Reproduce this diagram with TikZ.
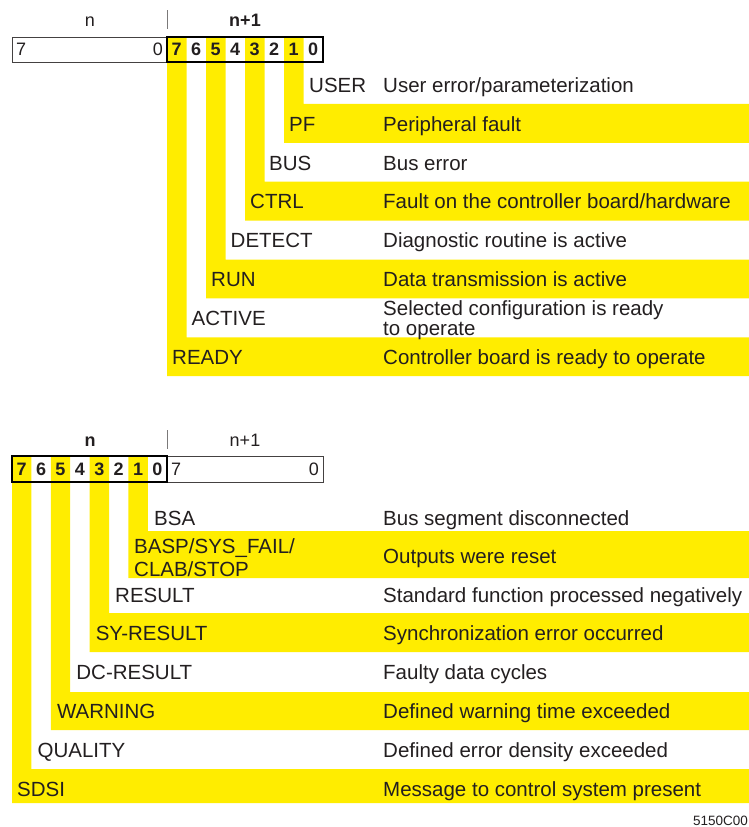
\documentclass[tikz,border=0pt]{standalone}
\usepackage{fontspec}
\setmainfont{Liberation Sans}
\definecolor{hlyellow}{RGB}{255,237,0}
\definecolor{inkgray}{RGB}{35,31,32}
\begin{document}
\begin{tikzpicture}[x=1pt,y=-1pt,
    hl/.style={fill=hlyellow},
    txt/.style={anchor=west,inner sep=0pt,text=inkgray,font=\fontsize{20.5}{20}\selectfont,text height=14.7pt,text depth=0pt},
    twoline/.style={anchor=west,inner sep=0pt,text=inkgray,font=\fontsize{20.5}{20}\selectfont,align=left},
    num/.style={inner sep=0pt,text=inkgray,font=\fontsize{18}{18}\selectfont,text height=12.9pt,text depth=0pt},
    bitnum/.style={num,font=\fontsize{18}{18}\selectfont\bfseries},
    thinbox/.style={draw=inkgray!85,line width=0.9pt},
    boldbox/.style={draw=black,line width=2pt},
    sep/.style={draw=inkgray!60,line width=0.8pt}]
\useasboundingbox (0,0) rectangle (749,827);
% ---- byte n+1 ----
\foreach \b in {1,3,5,7} {
    \pgfmathsetmacro\xa{167+(7-\b)*19.5}
    \pgfmathsetmacro\ya{65+38.9*\b}
    \fill[hl] (\xa,37) -- (\xa+19.5,37) -- (\xa+19.5,\ya) -- (749,\ya) -- (749,\ya+38.9) -- (\xa,\ya+38.9) -- cycle;
}
\node[num] (topn) at (90,20) {n};
\node[bitnum] (topnn) at (245,20) {n+1};
\draw[sep] (167,10) -- (167,29);
\draw[thinbox] (12,37) rectangle (167,62);
\node[num,anchor=west] (toplo) at (16,49.5) {7};
\node[num,anchor=east] (tophi) at (163,49.5) {0};
\foreach \b in {0,...,7}
    \node[bitnum] (tb\b) at ({176.75+(7-\b)*19.5},49.5) {\b};
\draw[boldbox] (167,37) rectangle (323,62);
% labels
\node[txt] (user) at (309,85) {USER};
\node[txt] (pf) at (289,124) {PF};
\node[txt] (bus) at (269,162.8) {BUS};
\node[txt] (ctrl) at (250,201.6) {CTRL};
\node[txt] (detect) at (230.5,240.5) {DETECT};
\node[txt] (run) at (211,279.4) {RUN};
\node[txt] (active) at (191.5,318.3) {ACTIVE};
\node[txt] (ready) at (172,357.2) {READY};
\node[txt] (duser) at (383,85) {User error/parameterization};
\node[txt] (dpf) at (383,124) {Peripheral fault};
\node[txt] (dbus) at (383,162.8) {Bus error};
\node[txt] (dctrl) at (383,201.6) {Fault on the controller board/hardware};
\node[txt] (ddetect) at (383,240.5) {Diagnostic routine is active};
\node[txt] (drun) at (383,279.4) {Data transmission is active};
\node[twoline] (dactive) at (383,320) {Selected configuration is ready\\to operate};
\node[txt] (dready) at (383,357.2) {Controller board is ready to operate};
% ---- byte n ----
\foreach \b/\ya/\yb in {1/531/578,3/613/652,5/692/730,7/769/803} {
    \pgfmathsetmacro\xa{12+(7-\b)*19.4}
    \fill[hl] (\xa,456) -- (\xa+19.4,456) -- (\xa+19.4,\ya) -- (749,\ya) -- (749,\yb) -- (\xa,\yb) -- cycle;
}
\node[bitnum] (botn) at (90,440) {n};
\node[num] (botnn) at (245,440) {n+1};
\draw[sep] (167,430) -- (167,449);
\draw[thinbox] (167,456) rectangle (323,482);
\node[num,anchor=west] (botlo) at (171,469) {7};
\node[num,anchor=east] (bothi) at (319,469) {0};
\foreach \b in {0,...,7}
    \node[bitnum] (bb\b) at ({21.7+(7-\b)*19.4},469) {\b};
\draw[boldbox] (12,456) rectangle (167,482);
% labels
\node[txt] (bsa) at (154,518) {BSA};
\node[twoline,font=\fontsize{20.5}{23.5}\selectfont] (basp) at (134,557.5) {BASP/SYS\_FAIL/\\CLAB/STOP};
\node[txt] (result) at (115,595) {RESULT};
\node[txt] (syresult) at (95.6,633) {SY-RESULT};
\node[txt] (dcresult) at (76.2,672) {DC-RESULT};
\node[txt] (warning) at (56.8,711) {WARNING};
\node[txt] (quality) at (37.4,750) {QUALITY};
\node[txt] (sdsi) at (17,789) {SDSI};
\node[txt] (dbsa) at (383,518) {Bus segment disconnected};
\node[txt] (dbasp) at (383,556) {Outputs were reset};
\node[txt] (dresult) at (383,595) {Standard function processed negatively};
\node[txt] (dsyresult) at (383,633) {Synchronization error occurred};
\node[txt] (ddcresult) at (383,672) {Faulty data cycles};
\node[txt] (dwarning) at (383,711) {Defined warning time exceeded};
\node[txt] (dquality) at (383,750) {Defined error density exceeded};
\node[txt] (dsdsi) at (383,789) {Message to control system present};
\node[anchor=east,inner sep=0pt,text=inkgray,font=\fontsize{13.5}{13.5}\selectfont] (figcode) at (748,821) {5150C00};
\end{tikzpicture}
\end{document}
